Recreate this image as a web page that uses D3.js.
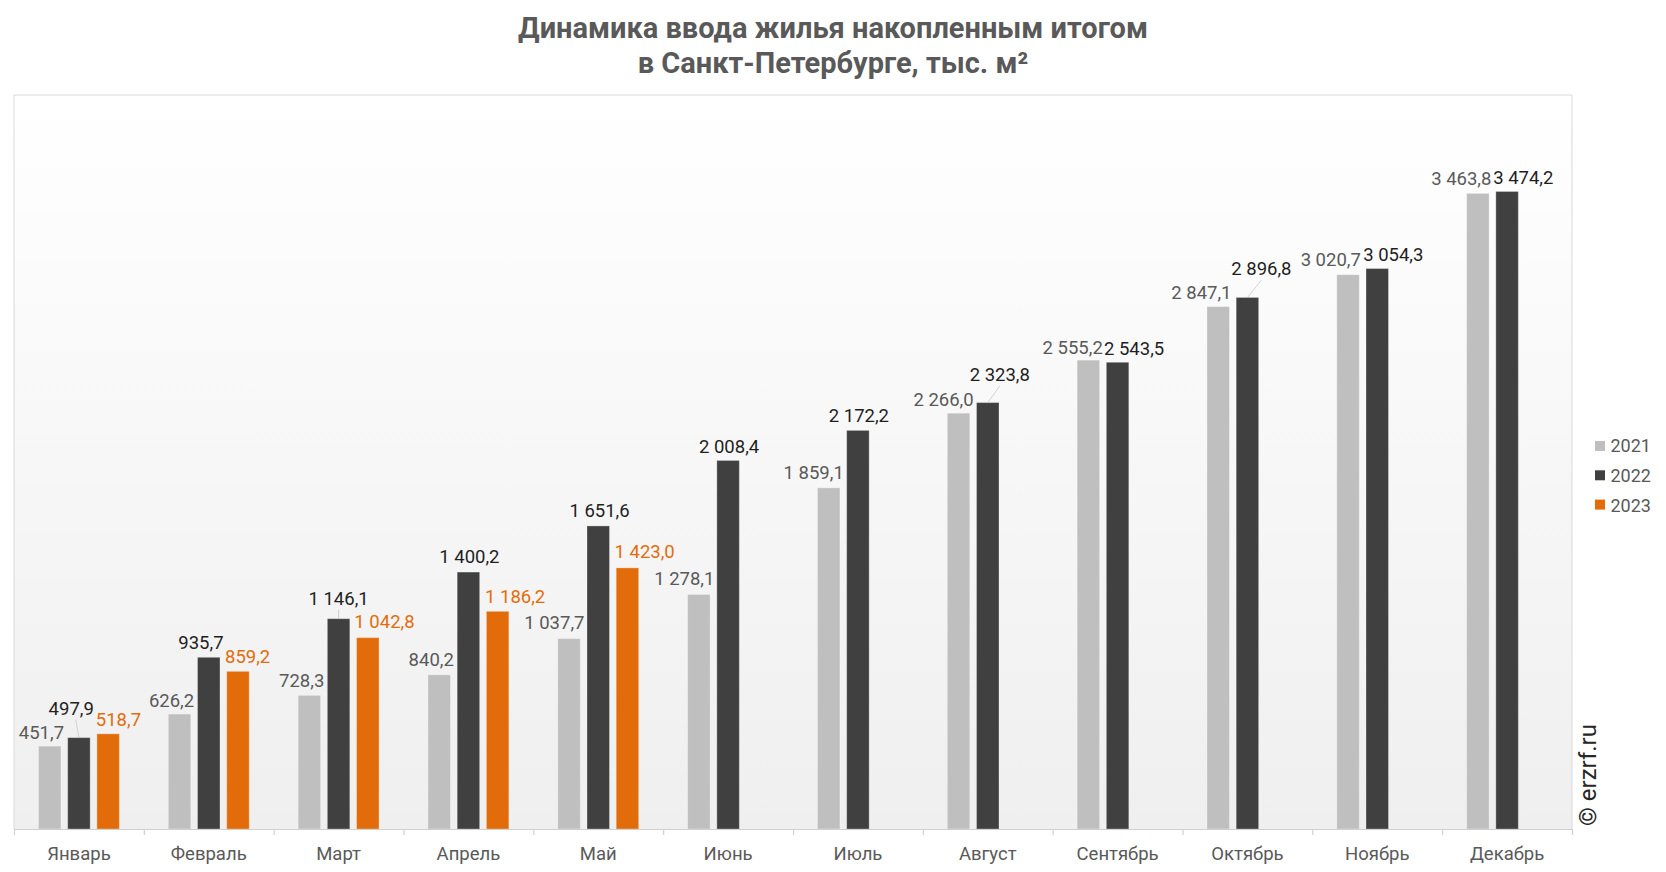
<!DOCTYPE html>
<html>
<head>
<meta charset="utf-8">
<script src="https://cdn.jsdelivr.net/npm/d3@7"></script>
<style>
  html, body { margin: 0; padding: 0; background: #ffffff; }
  svg { display: block; font-family: Roboto, "Noto Sans", sans-serif; }
</style>
</head>
<body>
<svg id="chart" width="1666" height="872"></svg>
<script>
// ---- data ----
const months = ["Январь", "Февраль", "Март", "Апрель", "Май", "Июнь", "Июль", "Август", "Сентябрь", "Октябрь", "Ноябрь", "Декабрь"];
const years = ["2021", "2022", "2023"];
const values2021 = [451.7, 626.2, 728.3, 840.2, 1037.7, 1278.1, 1859.1, 2266.0, 2555.2, 2847.1, 3020.7, 3463.8];
const values2022 = [497.9, 935.7, 1146.1, 1400.2, 1651.6, 2008.4, 2172.2, 2323.8, 2543.5, 2896.8, 3054.3, 3474.2];
const values2023 = [518.7, 859.2, 1042.8, 1186.2, 1423.0, null, null, null, null, null, null, null];
const titleLines = ["Динамика ввода жилья накопленным итогом", "в Санкт-Петербурге, тыс. м²"];
const watermark = "© erzrf.ru";

// ---- label placement tweaks (horizontal / vertical nudges, leader line flags) ----
const labelDx = {
  "2021": [-8.3, -8, -7.7, -8, -14.7, -14.6, -15, -15, -15.7, -16.8, -17.3, -16.6],
  "2022": [-7.7, -7.8, 0, 1, 1.3, 1, 1, 12, 16.5, 14, 16, 16.2],
  "2023": [10.3, 9.7, 16.7, 17.5, 17.2, 0, 0, 0, 0, 0, 0, 0]
};
const labelDy = {
  "2021": [0.6, 0.7, -0.3, -0.8, -1.3, -1.5, -1.3, 0.7, 2, 0.3, -1, -0.3],
  "2022": [-15, -0.4, -6, -1.3, -0.7, 0.7, 0, -13.6, 0.7, -14.3, 0.4, 0.3],
  "2023": [-0.3, -0.4, -1.7, -0.6, -2, 0, 0, 0, 0, 0, 0, 0]
};
const leader2022 = [true, false, true, false, false, false, false, true, false, true, false, false];

// ---- styles ----
const colors = { "2021": "#bfbfbf", "2022": "#404040", "2023": "#e36c0a" };
const labelColors = { "2021": "#595959", "2022": "#1f1f1f", "2023": "#e36c0a" };
const seriesValues = { "2021": values2021, "2022": values2022, "2023": values2023 };

const svg = d3.select("#chart");
const W = 1666, H = 872;
const plot = { left: 14, right: 1572, top: 95, bottom: 829 };

// background gradient in plot area
const defs = svg.append("defs");
const grad = defs.append("linearGradient").attr("id", "bg").attr("x1", 0).attr("y1", 0).attr("x2", 0).attr("y2", 1);
grad.append("stop").attr("offset", "0%").attr("stop-color", "#ffffff");
grad.append("stop").attr("offset", "100%").attr("stop-color", "#efefef");

svg.append("rect").attr("x", 0).attr("y", 0).attr("width", W).attr("height", H).attr("fill", "#ffffff");
svg.append("rect")
  .attr("x", plot.left).attr("y", plot.top)
  .attr("width", plot.right - plot.left).attr("height", plot.bottom - plot.top)
  .attr("fill", "url(#bg)");
// frame (left, top, right)
svg.append("path")
  .attr("d", `M${plot.left},${plot.bottom}V${plot.top}H${plot.right}V${plot.bottom}`)
  .attr("fill", "none").attr("stroke", "#d9d9d9").attr("stroke-width", 1);

// scales
const x0 = d3.scaleBand().domain(months).range([plot.left, plot.right]).paddingInner(0.377).paddingOuter(0.1885);
const x1 = d3.scaleBand().domain(years).range([0, x0.bandwidth()]).paddingInner(0.23).paddingOuter(0);
const y = d3.scaleLinear().domain([0, 4000]).range([plot.bottom, plot.top]);

const locale = d3.formatLocale({ decimal: ",", thousands: "\u00a0", grouping: [3], currency: ["", ""] });
const fmt = locale.format(",.1f");

// flatten
const records = [];
years.forEach(yr => {
  months.forEach((m, i) => {
    const v = seriesValues[yr][i];
    if (v !== null && v !== undefined) records.push({ year: yr, month: m, i, value: v });
  });
});

// bars
svg.append("g").selectAll("rect")
  .data(records).join("rect")
  .attr("x", d => x0(d.month) + x1(d.year))
  .attr("y", d => y(d.value))
  .attr("width", x1.bandwidth())
  .attr("height", d => y(0) - y(d.value))
  .attr("fill", d => colors[d.year])
  .attr("stroke", "#ffffff").attr("stroke-opacity", 0.3).attr("stroke-width", 1);

// x axis line + boundary ticks
const boundary = d3.scaleLinear().domain([0, months.length]).range([plot.left, plot.right]);
const tickAxis = svg.append("g").attr("transform", `translate(0,${plot.bottom})`)
  .call(d3.axisBottom(boundary).tickValues(d3.range(0, months.length + 1)).tickSize(6).tickFormat("").tickSizeOuter(0));
tickAxis.selectAll("path, line").attr("stroke", "#d0d0d0").attr("stroke-width", 1.2);

const labelAxis = svg.append("g").attr("transform", `translate(0,${plot.bottom})`)
  .call(d3.axisBottom(x0).tickSize(0).tickSizeOuter(0));
labelAxis.select(".domain").remove();
labelAxis.selectAll("text")
  .attr("y", 30.8).attr("dy", 0)
  .attr("fill", "#595959")
  .style("font-family", "Roboto, sans-serif")
  .style("font-size", "18.5px");

// data labels
const lbl = svg.append("g");
records.forEach(d => {
  const bx = x0(d.month) + x1(d.year) + x1.bandwidth() / 2;
  const by = y(d.value);
  const lx = bx + labelDx[d.year][d.i];
  const ly = by - 8 + labelDy[d.year][d.i];
  if (d.year === "2022" && leader2022[d.i]) {
    lbl.append("line")
      .attr("x1", lx + (d.i === 0 ? 4.5 : 0)).attr("y1", ly + 5)
      .attr("x2", bx).attr("y2", by)
      .attr("stroke", "#c8c8c8").attr("stroke-width", 0.8);
  }
  lbl.append("text")
    .attr("x", lx).attr("y", ly)
    .attr("text-anchor", "middle")
    .attr("fill", labelColors[d.year])
    .style("font-size", "18.5px")
    .text(fmt(d.value));
});

// title
svg.append("g").selectAll("text")
  .data(titleLines).join("text")
  .attr("x", 833)
  .attr("y", (d, i) => 38 + i * 35)
  .attr("text-anchor", "middle")
  .attr("fill", "#595959")
  .style("font-weight", "bold")
  .style("font-size", "29px")
  .text(d => d);

// legend
const legend = svg.append("g");
years.forEach((yr, i) => {
  legend.append("rect")
    .attr("x", 1595).attr("y", 441 + i * 29.3)
    .attr("width", 10).attr("height", 10)
    .attr("fill", colors[yr]);
  legend.append("text")
    .attr("x", 1610.5).attr("y", 452.3 + i * 30)
    .attr("fill", "#595959")
    .style("font-size", "18px")
    .text(yr);
});

// watermark
svg.append("text")
  .attr("transform", "translate(1596,775) rotate(-90)")
  .attr("text-anchor", "middle")
  .attr("fill", "#262626")
  .style("font-size", "24px")
  .text(watermark);
</script>
</body>
</html>
